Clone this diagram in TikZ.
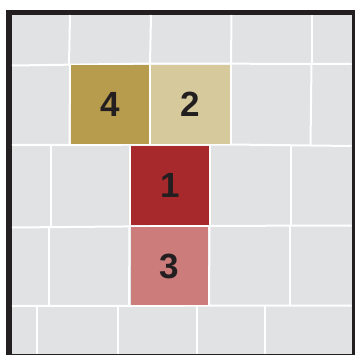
\documentclass[tikz,border=0pt]{standalone}
\usepackage{fontspec}
\setmainfont{Liberation Sans}
\usepackage{xcolor}
\usepackage{tikz}
\definecolor{framedark}{RGB}{35, 31, 32}
\definecolor{floorgray}{RGB}{225, 226, 228}
\definecolor{tileone}{RGB}{168, 41, 43}
\definecolor{tiletwo}{RGB}{214, 201, 156}
\definecolor{tilethree}{RGB}{203, 124, 123}
\definecolor{tilefour}{RGB}{184, 156, 77}

\begin{document}
\begin{tikzpicture}[
  x=1pt, y=-1pt,
  gap/.style={white, line width=2pt},
  tile/.style={inner sep=0pt, font=\fontsize{35}{35}\selectfont\bfseries, text=framedark},
]
\useasboundingbox (0,0) rectangle (355,356);
\fill[white] (0,0) rectangle (355,356);

% frame and floor
\fill[framedark] (6,9.5) rectangle (355,355);
\fill[floorgray] (12,15) rectangle (351.5,353.5);

% joints between rows
\draw[gap] (12,65.5) -- (150,63.5) -- (351.5,64);
\draw[gap] (12,145) -- (230,144.5) -- (351.5,146);
\draw[gap] (12,227.5) -- (177,226) -- (351.5,225.5);
\draw[gap] (12,306) -- (351.5,305.5);

% joints in row 1
\draw[gap] (70,15) -- (69,64);
\draw[gap] (151,15) -- (150,64);
\draw[gap] (231.5,15) -- (231,64);
\draw[gap] (312,15) -- (312,64);

% joints in row 2
\draw[gap] (70,64) -- (69.5,145);
\draw[gap] (150,64) -- (150,145);
\draw[gap] (230.5,64) -- (230.5,145);
\draw[gap] (311.5,64) -- (310.5,145);

% joints in row 3
\draw[gap] (50.5,145) -- (50.5,226);
\draw[gap] (130,145) -- (130,226);
\draw[gap] (210,145) -- (210,226);
\draw[gap] (290.5,145) -- (290.5,226);

% joints in row 4
\draw[gap] (48.5,226) -- (48.5,306);
\draw[gap] (129.5,226) -- (129,306);
\draw[gap] (209.5,226) -- (209,306);
\draw[gap] (290,226) -- (290,306);

% joints in row 5
\draw[gap] (37,306) -- (37,354);
\draw[gap] (117.5,306) -- (117.5,354);
\draw[gap] (196.5,306) -- (196.5,354);
\draw[gap] (265,306) -- (265,354);

% numbered tiles
\node[tile, fill=tilefour, minimum width=78pt, minimum height=79pt] (t4) at (110,104.5) {4};
\node[tile, fill=tiletwo, minimum width=79pt, minimum height=79.5pt] (t2) at (190.5,104.25) {2};
\node[tile, fill=tileone, minimum width=78pt, minimum height=79pt] (t1) at (170,185.5) {1};
\node[tile, fill=tilethree, minimum width=77.5pt, minimum height=78pt] (t3) at (169.25,266) {3};

\end{tikzpicture}
\end{document}
